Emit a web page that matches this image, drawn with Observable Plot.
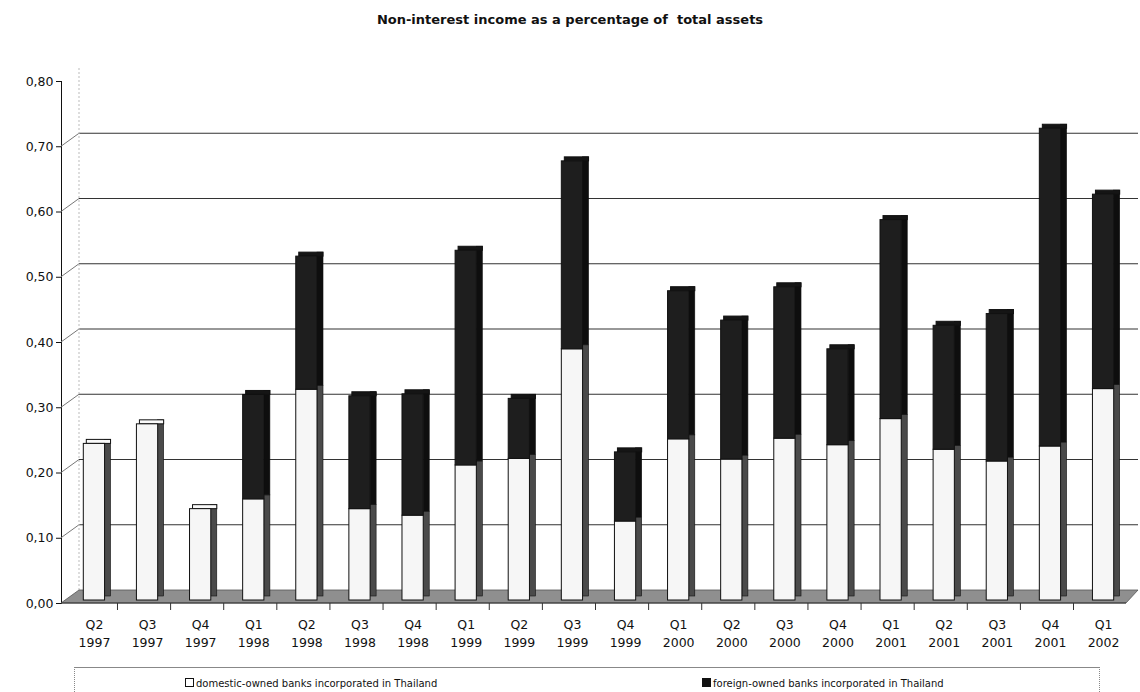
<!DOCTYPE html>
<html>
<head>
<meta charset="utf-8">
<script src="https://cdn.jsdelivr.net/npm/d3@7"></script>
<script src="https://cdn.jsdelivr.net/npm/@observablehq/plot@0.6"></script>
<style>
  html, body { margin: 0; padding: 0; background: #fff; }
  #wrap { position: relative; width: 1140px; height: 692px; overflow: hidden; font-family: "DejaVu Sans", Verdana, sans-serif; }
  #title { position: absolute; left: 0; top: 12px; width: 1140px; text-align: center; font-weight: bold; font-size: 13px; color: #111; white-space: pre; }
  #chart { position: absolute; left: 0; top: 44px; }
  #legend { position: absolute; left: 74px; top: 667px; width: 1024px; height: 40px; border-top: 1px solid #888; border-left: 1px dotted #888; border-right: 1px dotted #888; font-size: 10px; color: #111; }
  #legend span { position: absolute; top: 10px; white-space: nowrap; }
  .sw { display: inline-block; width: 7px; height: 7px; border: 1px solid #111; margin-right: 2px; vertical-align: 0px; }
</style>
</head>
<body>
<div id="wrap">
  <div id="title">Non-interest income as a percentage of  total assets</div>
  <div id="chart"></div>
  <div id="legend">
    <span style="left:110px"><i class="sw" style="background:#fff"></i>domestic-owned banks incorporated in Thailand</span>
    <span style="left:627px"><i class="sw" style="background:#111"></i>foreign-owned banks incorporated in Thailand</span>
  </div>
</div>
<script>
const quarters = ["Q2","Q3","Q4","Q1","Q2","Q3","Q4","Q1","Q2","Q3","Q4","Q1","Q2","Q3","Q4","Q1","Q2","Q3","Q4","Q1"];
const years = ["1997","1997","1997","1998","1998","1998","1998","1999","1999","1999","1999","2000","2000","2000","2000","2001","2001","2001","2001","2002"];
const domestic = [0.24, 0.27, 0.14, 0.155, 0.323, 0.14, 0.13, 0.207, 0.217, 0.385, 0.121, 0.247, 0.216, 0.248, 0.238, 0.278, 0.231, 0.213, 0.236, 0.324];
const foreign = [0, 0, 0, 0.16, 0.204, 0.173, 0.186, 0.329, 0.092, 0.288, 0.106, 0.227, 0.213, 0.232, 0.147, 0.305, 0.19, 0.226, 0.487, 0.298];
const yTicks = [0, 0.1, 0.2, 0.3, 0.4, 0.5, 0.6, 0.7, 0.8];
const gridTicks = [0.1, 0.2, 0.3, 0.4, 0.5, 0.6, 0.7];

const labels = quarters.map((q, i) => q + " " + years[i]);
const segs = [];
labels.forEach((l, i) => {
  segs.push({cat: l, series: "domestic", y1: 0, y2: domestic[i]});
  if (foreign[i] > 0) segs.push({cat: l, series: "foreign", y1: domestic[i], y2: domestic[i] + foreign[i]});
});
const tops = labels.map((l, i) => ({cat: l, t: domestic[i] + foreign[i], series: foreign[i] > 0 ? "foreign" : "domestic"}));

const fillFront = s => s === "foreign" ? "#1e1e1e" : "#f6f6f6";
const fillSide = s => s === "foreign" ? "#0e0e0e" : "#4a4a4a";

// 3D depth offsets (pixels) of the back wall and of the bars
const BACK_DX = 18, BACK_DY = -13, BAR_DY = -3;

// back wall gridlines + the short diagonals joining them to the front axis
function backWall(index, scales, values, dim) {
  const g = d3.create("svg:g").attr("stroke", "#333").attr("fill", "none");
  const x0 = dim.marginLeft;
  for (const v of gridTicks) {
    const y = scales.y(v);
    g.append("line").attr("x1", x0).attr("y1", y).attr("x2", x0 + BACK_DX).attr("y2", y + BACK_DY).attr("stroke", "#777");
    g.append("line").attr("x1", x0 + BACK_DX).attr("y1", y + BACK_DY).attr("x2", dim.width - 2).attr("y2", y + BACK_DY).attr("stroke-width", 1.1);
  }
  g.append("line").attr("x1", x0 + BACK_DX).attr("x2", x0 + BACK_DX)
    .attr("y1", scales.y(0) + BACK_DY).attr("y2", scales.y(0.8) + BACK_DY)
    .attr("stroke", "#bbb").attr("stroke-dasharray", "2,2");
  return g.node();
}

// floor parallelogram and the x ticks between categories
function floorAndTicks(index, scales, values, dim) {
  const g = d3.create("svg:g");
  const y0 = scales.y(0);
  const xl = dim.marginLeft, xr = dim.width - 14;
  g.append("path")
    .attr("d", `M${xl},${y0} L${xl + BACK_DX},${y0 + BACK_DY} L${xr + 12},${y0 + BACK_DY} L${xr},${y0} Z`)
    .attr("fill", "#8f8f8f").attr("stroke", "#555").attr("stroke-width", 0.8);
  g.append("line").attr("x1", xl).attr("x2", xr).attr("y1", y0).attr("y2", y0).attr("stroke", "#333");
  const bw = scales.x.bandwidth(), step = scales.x.step();
  labels.forEach((l, i) => {
    const xt = scales.x(l) + bw / 2 + step / 2 - 3;
    if (xt < xr) g.append("line").attr("x1", xt).attr("x2", xt).attr("y1", y0).attr("y2", y0 + 7).attr("stroke", "#333");
  });
  return g.node();
}

const chart = Plot.plot({
  width: 1140,
  height: 610,
  marginTop: 37,
  marginBottom: 51,
  marginLeft: 61,
  marginRight: 4,
  style: {fontFamily: "'DejaVu Sans', Verdana, sans-serif", fontSize: "12.5px", color: "#111", background: "#fff"},
  x: {domain: labels, paddingInner: 0.6, paddingOuter: 0.42, round: false, label: null, axis: null},
  y: {domain: [0, 0.8], ticks: yTicks, tickFormat: d => d3.format(".2f")(d).replace(".", ","), label: null, line: true, tickSize: 5, tickPadding: 3},
  marks: [
    backWall,
    floorAndTicks,
    // side faces
    Plot.barY(segs, {x: "cat", y1: "y1", y2: "y2", fill: d => fillSide(d.series), insetLeft: 15.2, dx: 6, dy: BAR_DY - 4, stroke: "#111", strokeWidth: 0.6}),
    // top caps
    Plot.barY(tops, {x: "cat", y1: "t", y2: "t", insetTop: -4, insetRight: -3, dx: 3, dy: BAR_DY, fill: d => d.series === "foreign" ? "#151515" : "#fafafa", stroke: "#111", strokeWidth: 1}),
    // front faces
    Plot.barY(segs, {x: "cat", y1: "y1", y2: "y2", dy: BAR_DY, fill: d => fillFront(d.series), stroke: "#111", strokeWidth: 1}),
    // two-row category labels
    Plot.axisX({tickSize: 0, tickPadding: 17, tickFormat: (d, i) => quarters[i], fontSize: 12.5}),
    Plot.axisX({tickSize: 0, tickPadding: 35, tickFormat: (d, i) => years[i], fontSize: 12.5})
  ]
});
document.getElementById("chart").appendChild(chart);
</script>
</body>
</html>
